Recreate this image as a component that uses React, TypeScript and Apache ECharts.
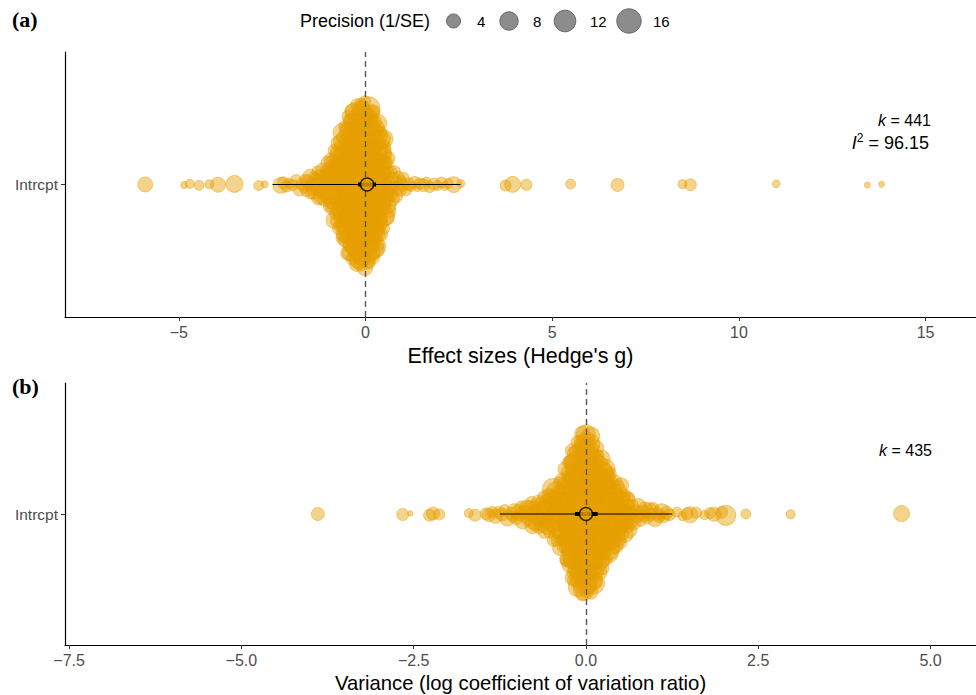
import React, { useEffect, useRef } from 'react';
import * as echarts from 'echarts';

const ORANGE = '#E69F00';
const FONT = '"Liberation Sans", Arial, Helvetica, sans-serif';

// ---------- Panel (a): effect sizes (Hedge's g), [value, precision 1/SE] ----------
const gOutliers: number[][] = [
  [-5.9, 4.8], [-4.86, 0.43], [-4.71, 1.1], [-4.46, 1.5], [-4.18, 1.1], [-3.95, 4.8], [-3.51, 6.6], [-2.86, 1.5], [-2.7, 0.45],
  [2.36, 5.7], [2.55, 0.7], [3.75, 2.0], [3.94, 5.7], [4.31, 2.0], [5.49, 1.5], [6.75, 3.3], [8.49, 1.1], [8.7, 2.6], [11.0, 0.7], [13.44, 0.2], [13.82, 0.2],
];
const gTails: number[][] = [
  [-2.27, 5.5], [-2.2, 2.5], [-2.12, 2.0], [-2.05, 1.5], [-1.95, 2.0], [-1.86, 3.0], [-1.77, 3.5], [-1.72, 2.0], [-1.66, 1.5], [-1.61, 2.5], [-1.57, 3.0],
  [1.08, 2], [1.15, 3], [1.22, 1.5], [1.31, 2.5], [1.38, 1], [1.46, 2], [1.55, 3], [1.63, 1.5], [1.72, 2], [1.84, 2.5], [1.93, 1.5], [2.04, 2], [2.12, 1], [2.22, 1.5],
];
const gCore: number[][] = [
  [-1.54, 3.1], [-1.52, 1.8], [-1.49, 4.2], [-1.46, 2.5],
  [-1.44, 2.0], [-1.41, 3.6], [-1.38, 1.4], [-1.36, 5.0],
  [-1.34, 2.7], [-1.32, 4.4], [-1.29, 1.9], [-1.27, 3.3], [-1.25, 6.1],
  [-1.24, 2.2], [-1.21, 3.8], [-1.19, 5.4], [-1.17, 1.6], [-1.15, 2.9],
  [-1.14, 4.7], [-1.12, 2.4], [-1.1, 3.5], [-1.08, 7.2], [-1.07, 1.8], [-1.05, 3.0],
  [-1.04, 5.2], [-1.03, 2.6], [-1.01, 3.9], [-0.99, 1.7], [-0.98, 6.4], [-0.97, 2.8], [-0.95, 4.1],
  [-0.95, 3.3], [-0.94, 5.8], [-0.93, 2.1], [-0.92, 4.5], [-0.9, 3.0], [-0.89, 8.1], [-0.88, 2.5], [-0.87, 3.7], [-0.86, 5.0], [-0.85, 1.9],
  [-0.85, 4.3], [-0.84, 2.7], [-0.83, 6.6], [-0.82, 3.4], [-0.81, 2.0], [-0.8, 5.5], [-0.79, 3.1], [-0.78, 9.2], [-0.77, 2.3], [-0.76, 4.0], [-0.76, 3.6], [-0.75, 5.9],
  [-0.75, 2.9], [-0.74, 4.8], [-0.74, 3.2], [-0.73, 7.0], [-0.72, 2.4], [-0.72, 5.1], [-0.71, 3.8], [-0.7, 10.4], [-0.7, 2.6], [-0.69, 4.4], [-0.68, 3.0], [-0.68, 6.2], [-0.67, 2.1], [-0.66, 4.9], [-0.66, 3.5], [-0.65, 8.6], [-0.65, 2.8], [-0.65, 4.1],
  [-0.65, 5.3], [-0.64, 2.5], [-0.64, 3.9], [-0.63, 7.5], [-0.62, 3.1], [-0.62, 4.6], [-0.61, 2.2], [-0.61, 6.0], [-0.6, 3.4], [-0.6, 11.8], [-0.59, 2.7], [-0.59, 4.2], [-0.58, 5.6], [-0.57, 3.0], [-0.57, 8.9], [-0.56, 2.3], [-0.56, 4.7], [-0.56, 3.6], [-0.55, 6.7], [-0.55, 2.9], [-0.55, 4.0],
  [-0.54, 3.2], [-0.54, 5.5], [-0.53, 2.4], [-0.53, 7.9], [-0.52, 3.7], [-0.52, 4.4], [-0.51, 2.0], [-0.51, 6.3], [-0.5, 3.3], [-0.5, 9.8], [-0.49, 2.6], [-0.49, 5.0], [-0.48, 3.9], [-0.48, 13.5], [-0.47, 2.8], [-0.47, 4.6], [-0.47, 3.1], [-0.46, 7.1], [-0.46, 2.2], [-0.46, 5.8], [-0.45, 3.5], [-0.45, 4.2], [-0.45, 8.3], [-0.45, 2.7],
  [-0.44, 4.9], [-0.44, 3.0], [-0.43, 6.5], [-0.43, 2.5], [-0.43, 4.1], [-0.42, 10.9], [-0.42, 3.4], [-0.41, 5.3], [-0.41, 2.1], [-0.41, 7.7], [-0.4, 3.8], [-0.4, 4.5], [-0.39, 2.9], [-0.39, 12.6], [-0.38, 3.2], [-0.38, 5.9], [-0.38, 2.4], [-0.37, 6.8], [-0.37, 3.6], [-0.36, 4.3], [-0.36, 9.1], [-0.36, 2.7], [-0.35, 5.1], [-0.35, 3.1], [-0.35, 7.3], [-0.35, 2.3], [-0.35, 4.7],
  [-0.34, 3.9], [-0.34, 6.1], [-0.33, 2.6], [-0.33, 8.7], [-0.33, 3.3], [-0.32, 4.8], [-0.32, 2.2], [-0.31, 11.2], [-0.31, 3.7], [-0.31, 5.4], [-0.3, 2.8], [-0.3, 7.4], [-0.29, 3.1], [-0.29, 4.4], [-0.29, 14.8], [-0.28, 2.5], [-0.28, 6.3], [-0.27, 3.5], [-0.27, 5.0], [-0.27, 2.0], [-0.26, 9.6], [-0.26, 3.8], [-0.26, 4.6], [-0.25, 2.9], [-0.25, 6.9], [-0.25, 3.4], [-0.25, 5.7],
  [-0.24, 2.4], [-0.24, 4.1], [-0.24, 8.2], [-0.23, 3.0], [-0.23, 5.6], [-0.23, 2.7], [-0.22, 12.1], [-0.22, 3.6], [-0.22, 4.9], [-0.21, 2.1], [-0.21, 7.0], [-0.21, 3.3], [-0.2, 5.2], [-0.2, 10.3], [-0.2, 2.6], [-0.19, 4.4], [-0.19, 3.9], [-0.19, 6.6], [-0.18, 2.3], [-0.18, 8.8], [-0.18, 3.2], [-0.17, 4.7], [-0.17, 15.6], [-0.17, 2.8], [-0.16, 5.8], [-0.16, 3.5], [-0.16, 7.6], [-0.15, 2.5], [-0.15, 4.2],
  [-0.14, 6.4], [-0.14, 3.1], [-0.14, 9.4], [-0.13, 2.4], [-0.13, 4.8], [-0.13, 3.7], [-0.12, 11.5], [-0.12, 2.9], [-0.12, 5.3], [-0.11, 3.4], [-0.11, 7.8], [-0.11, 2.2], [-0.1, 4.5], [-0.1, 13.2], [-0.1, 3.0], [-0.09, 6.0], [-0.09, 2.7], [-0.09, 4.0], [-0.08, 8.5], [-0.08, 3.6], [-0.08, 5.5], [-0.07, 2.3], [-0.07, 10.0], [-0.07, 3.3], [-0.06, 4.6], [-0.06, 7.2], [-0.06, 2.6], [-0.05, 5.0], [-0.05, 3.9],
  [-0.04, 12.8], [-0.04, 2.8], [-0.04, 4.3], [-0.03, 6.7], [-0.03, 3.2], [-0.03, 9.0], [-0.02, 2.5], [-0.02, 5.7], [-0.02, 3.8], [-0.01, 14.3], [-0.01, 2.1], [-0.01, 4.9], [0.0, 7.4], [0.0, 3.5], [0.0, 5.2], [0.01, 2.9], [0.01, 10.7], [0.01, 4.1], [0.02, 3.0], [0.02, 6.5], [0.02, 2.4], [0.03, 8.1], [0.03, 3.7], [0.03, 4.8], [0.04, 2.7], [0.04, 11.9], [0.04, 3.4], [0.05, 5.9], [0.05, 2.2],
  [0.05, 4.4], [0.06, 7.9], [0.06, 3.1], [0.06, 5.4], [0.07, 2.6], [0.07, 9.7], [0.07, 3.9], [0.08, 4.6], [0.08, 2.3], [0.08, 13.9], [0.09, 3.3], [0.09, 6.2], [0.09, 2.8], [0.1, 5.0], [0.1, 8.6], [0.1, 3.6], [0.11, 4.2], [0.11, 2.1], [0.11, 10.9], [0.12, 3.0], [0.12, 6.8], [0.12, 4.7], [0.13, 2.5], [0.13, 7.5], [0.13, 3.5], [0.14, 5.3], [0.14, 2.9], [0.14, 12.4], [0.15, 4.0],
  [0.15, 3.2], [0.16, 6.1], [0.16, 2.7], [0.16, 8.9], [0.17, 3.8], [0.17, 4.5], [0.18, 2.2], [0.18, 11.1], [0.18, 3.4], [0.19, 5.7], [0.19, 2.9], [0.2, 7.3], [0.2, 4.1], [0.2, 3.0], [0.21, 9.9], [0.21, 2.5], [0.22, 5.0], [0.22, 3.6], [0.22, 6.4], [0.23, 2.3], [0.23, 4.8], [0.23, 14.0], [0.24, 3.3], [0.24, 5.5], [0.24, 2.6], [0.25, 7.7], [0.25, 3.9],
  [0.25, 4.3], [0.26, 2.8], [0.26, 6.9], [0.27, 3.5], [0.27, 10.2], [0.28, 2.4], [0.28, 4.9], [0.28, 3.1], [0.29, 8.0], [0.29, 5.6], [0.3, 2.7], [0.3, 4.0], [0.31, 12.0], [0.31, 3.4], [0.32, 6.0], [0.32, 2.1], [0.33, 4.6], [0.33, 7.4], [0.33, 3.0], [0.34, 5.2], [0.34, 2.6], [0.34, 9.3], [0.35, 3.7], [0.35, 4.4],
  [0.35, 2.9], [0.36, 6.6], [0.36, 3.3], [0.37, 4.8], [0.37, 11.4], [0.38, 2.4], [0.38, 5.4], [0.39, 3.6], [0.39, 8.2], [0.4, 2.8], [0.4, 4.2], [0.41, 6.2], [0.41, 3.1], [0.42, 9.5], [0.42, 2.3], [0.43, 4.6], [0.43, 3.8], [0.43, 7.0], [0.44, 2.6], [0.44, 5.1], [0.44, 3.4],
  [0.45, 6.8], [0.46, 2.7], [0.47, 4.5], [0.47, 3.2], [0.48, 8.7], [0.49, 2.2], [0.49, 5.6], [0.5, 3.7], [0.51, 4.1], [0.51, 10.1], [0.52, 2.9], [0.53, 5.3], [0.53, 3.4], [0.54, 6.0],
  [0.55, 2.5], [0.56, 4.7], [0.57, 3.0], [0.58, 7.6], [0.59, 2.8], [0.6, 5.0], [0.61, 3.6], [0.62, 4.2], [0.64, 2.1],
  [0.66, 3.9], [0.68, 2.6], [0.7, 5.5], [0.72, 3.1], [0.74, 1.9],
  [0.77, 2.8], [0.8, 4.4], [0.83, 2.0], [0.85, 3.3],
  [0.88, 2.4], [0.92, 3.6], [0.95, 1.7],
  [0.98, 2.9], [1.02, 2.2],
];
// summary: mean, 95% CI, prediction interval
const gMean = 0.04;
const gCI = [-0.2, 0.28];
const gPI = [-2.49, 2.54];

// ---------- Panel (b): lnCVR, [value, precision 1/SE] ----------
const vOutliers: number[][] = [
  [-3.89, 3.3], [-2.66, 2.6], [-2.55, 0.13], [-2.27, 2.6], [-2.22, 3.3], [-2.13, 2.0], [-1.7, 1.1], [-1.61, 2.6],
  [1.32, 1.5], [1.4, 1.1], [1.47, 2.6], [1.51, 5.7], [1.6, 2.0], [1.72, 1.1], [1.8, 2.0], [1.86, 4.0], [1.97, 2.6], [2.03, 9.9], [2.32, 1.5], [2.97, 1.1], [4.58, 5.7],
];
const vTails: number[][] = [
  [-1.45, 2.6], [-1.41, 3.3], [-1.36, 2.0], [-1.31, 4.0], [-1.27, 2.6], [-1.22, 3.3], [-1.18, 2.0], [-1.14, 4.8],
];
const vCore: number[][] = [
  [-1.09, 3.0], [-1.06, 2.2],
  [-1.04, 3.6], [-1.01, 2.5], [-0.98, 4.4], [-0.96, 1.9],
  [-0.94, 2.8], [-0.92, 5.1], [-0.9, 3.2], [-0.88, 2.0], [-0.86, 3.9],
  [-0.84, 2.4], [-0.82, 6.0], [-0.81, 3.1], [-0.79, 2.7], [-0.78, 4.6], [-0.77, 3.5], [-0.75, 8.2],
  [-0.74, 2.9], [-0.73, 4.2], [-0.72, 2.2], [-0.7, 5.8], [-0.69, 3.3], [-0.68, 2.6], [-0.67, 7.1], [-0.66, 3.8], [-0.65, 2.4],
  [-0.64, 4.9], [-0.63, 3.0], [-0.62, 6.4], [-0.61, 2.5], [-0.6, 3.7], [-0.59, 9.5], [-0.58, 2.8], [-0.57, 4.3], [-0.56, 3.4], [-0.56, 5.6], [-0.55, 2.1],
  [-0.54, 3.9], [-0.53, 2.6], [-0.53, 7.3], [-0.52, 3.2], [-0.51, 4.7], [-0.5, 2.3], [-0.5, 5.9], [-0.49, 3.6], [-0.48, 11.0], [-0.47, 2.9], [-0.47, 4.4], [-0.46, 3.1], [-0.45, 6.6],
  [-0.44, 2.7], [-0.44, 4.1], [-0.43, 3.5], [-0.43, 8.4], [-0.42, 2.4], [-0.41, 5.2], [-0.41, 3.3], [-0.4, 4.6], [-0.4, 2.2], [-0.39, 7.0], [-0.38, 3.8], [-0.38, 2.8], [-0.37, 5.5], [-0.37, 3.0], [-0.36, 9.9], [-0.36, 4.0], [-0.35, 2.5], [-0.35, 6.1],
  [-0.34, 3.4], [-0.34, 4.8], [-0.33, 2.3], [-0.33, 6.8], [-0.32, 3.7], [-0.32, 2.9], [-0.31, 5.0], [-0.31, 12.3], [-0.3, 3.2], [-0.3, 4.5], [-0.29, 2.6], [-0.29, 7.8], [-0.28, 3.9], [-0.28, 5.3], [-0.28, 2.1], [-0.27, 4.2], [-0.27, 10.5], [-0.27, 3.0], [-0.26, 6.2], [-0.26, 2.7], [-0.26, 4.9], [-0.25, 3.6], [-0.25, 8.6], [-0.25, 2.4], [-0.25, 5.7], [-0.25, 3.3],
  [-0.24, 4.4], [-0.24, 2.8], [-0.24, 7.2], [-0.23, 3.5], [-0.23, 5.1], [-0.23, 2.2], [-0.23, 13.4], [-0.22, 3.9], [-0.22, 4.7], [-0.22, 2.6], [-0.22, 6.5], [-0.21, 3.1], [-0.21, 9.2], [-0.21, 2.4], [-0.21, 5.4], [-0.2, 3.8], [-0.2, 4.1], [-0.2, 11.6], [-0.2, 2.9], [-0.19, 6.0], [-0.19, 3.3], [-0.19, 4.8], [-0.19, 2.3], [-0.18, 8.0], [-0.18, 3.6], [-0.18, 5.6], [-0.18, 2.7], [-0.17, 4.3], [-0.17, 15.0], [-0.17, 3.0], [-0.17, 6.9], [-0.16, 2.5], [-0.16, 4.6], [-0.16, 3.4], [-0.16, 10.0], [-0.15, 2.8], [-0.15, 5.2], [-0.15, 3.7],
  [-0.14, 4.0], [-0.14, 7.5], [-0.14, 2.6], [-0.14, 5.8], [-0.13, 3.2], [-0.13, 12.7], [-0.13, 4.4], [-0.13, 2.3], [-0.12, 6.3], [-0.12, 3.5], [-0.12, 8.8], [-0.12, 2.9], [-0.12, 4.9], [-0.11, 3.1], [-0.11, 10.8], [-0.11, 5.5], [-0.11, 2.4], [-0.1, 4.2], [-0.1, 7.0], [-0.1, 3.6], [-0.1, 14.1], [-0.1, 2.7], [-0.09, 5.0], [-0.09, 3.3], [-0.09, 6.7], [-0.09, 2.2], [-0.08, 4.6], [-0.08, 9.4], [-0.08, 3.0], [-0.08, 5.9], [-0.07, 2.5], [-0.07, 11.8], [-0.07, 4.1], [-0.07, 3.8], [-0.07, 6.1], [-0.06, 2.8], [-0.06, 8.3], [-0.06, 4.7], [-0.06, 3.2], [-0.06, 16.2], [-0.05, 2.4], [-0.05, 5.3], [-0.05, 3.5], [-0.05, 7.7], [-0.05, 4.3], [-0.05, 2.9], [-0.05, 10.4], [-0.05, 3.7], [-0.05, 6.4],
  [-0.04, 2.6], [-0.04, 5.1], [-0.04, 13.0], [-0.04, 3.4], [-0.04, 4.5], [-0.03, 8.1], [-0.03, 2.3], [-0.03, 6.6], [-0.03, 3.9], [-0.03, 11.2], [-0.02, 2.8], [-0.02, 4.8], [-0.02, 3.1], [-0.02, 7.4], [-0.02, 5.6], [-0.01, 2.5], [-0.01, 9.7], [-0.01, 4.0], [-0.01, 3.6], [-0.01, 14.7], [0.0, 2.7], [0.0, 6.0], [0.0, 4.4], [0.0, 3.3], [0.0, 8.9], [0.0, 2.2], [0.01, 5.4], [0.01, 12.1], [0.01, 3.0], [0.01, 4.6], [0.01, 6.9], [0.02, 2.4], [0.02, 3.8], [0.02, 10.3], [0.02, 5.0], [0.02, 2.9], [0.03, 7.2], [0.03, 4.2], [0.03, 3.5], [0.03, 15.5], [0.03, 2.6], [0.04, 5.7], [0.04, 3.2], [0.04, 8.5], [0.04, 4.9], [0.04, 2.1], [0.05, 6.3], [0.05, 3.7], [0.05, 11.5], [0.05, 4.1],
  [0.05, 2.8], [0.06, 5.2], [0.06, 9.0], [0.06, 3.4], [0.06, 4.7], [0.07, 2.3], [0.07, 7.6], [0.07, 3.9], [0.07, 13.6], [0.08, 2.6], [0.08, 5.8], [0.08, 3.1], [0.08, 4.4], [0.09, 6.8], [0.09, 2.5], [0.09, 10.9], [0.09, 3.6], [0.1, 4.9], [0.1, 2.9], [0.1, 8.2], [0.1, 3.3], [0.1, 5.5], [0.11, 2.2], [0.11, 12.5], [0.11, 4.0], [0.11, 3.7], [0.12, 6.2], [0.12, 2.7], [0.12, 4.5], [0.12, 9.6], [0.13, 3.0], [0.13, 5.1], [0.13, 2.4], [0.13, 7.3], [0.13, 3.8], [0.14, 4.3], [0.14, 14.4], [0.14, 2.8], [0.14, 5.9], [0.14, 3.2], [0.15, 6.5], [0.15, 2.5], [0.15, 4.6], [0.15, 3.5], [0.15, 8.7], [0.15, 2.1], [0.15, 5.0],
  [0.16, 3.9], [0.16, 7.0], [0.16, 2.6], [0.17, 4.8], [0.17, 11.3], [0.17, 3.1], [0.18, 5.4], [0.18, 2.3], [0.18, 6.6], [0.19, 3.6], [0.19, 4.2], [0.19, 9.1], [0.2, 2.8], [0.2, 5.7], [0.2, 3.3], [0.21, 4.5], [0.21, 7.9], [0.21, 2.4], [0.22, 3.7], [0.22, 12.9], [0.22, 5.0], [0.23, 2.9], [0.23, 4.1], [0.23, 6.3], [0.24, 3.2], [0.24, 2.2], [0.24, 8.4], [0.24, 4.7], [0.25, 3.4], [0.25, 5.6], [0.25, 2.7], [0.25, 10.2], [0.25, 3.8],
  [0.26, 4.4], [0.26, 2.5], [0.27, 6.8], [0.27, 3.5], [0.28, 5.2], [0.28, 2.9], [0.28, 9.8], [0.29, 3.1], [0.29, 4.6], [0.3, 2.3], [0.3, 7.5], [0.31, 3.9], [0.31, 5.5], [0.32, 2.7], [0.32, 4.0], [0.33, 11.9], [0.33, 3.3], [0.33, 6.1], [0.34, 2.4], [0.34, 4.8], [0.34, 3.6], [0.35, 8.0], [0.35, 2.8], [0.35, 5.3],
  [0.36, 3.2], [0.36, 6.4], [0.37, 2.6], [0.37, 4.5], [0.38, 10.6], [0.38, 3.7], [0.39, 2.2], [0.39, 5.8], [0.4, 3.4], [0.4, 7.2], [0.41, 2.9], [0.41, 4.2], [0.42, 3.0], [0.42, 9.0], [0.43, 2.5], [0.43, 5.1], [0.44, 3.8], [0.44, 6.7], [0.45, 2.7], [0.45, 4.4],
  [0.46, 3.5], [0.46, 8.3], [0.47, 2.4], [0.47, 5.0], [0.48, 3.1], [0.48, 12.4], [0.49, 4.1], [0.49, 2.8], [0.5, 6.0], [0.5, 3.6], [0.51, 4.7], [0.51, 2.3], [0.52, 7.7], [0.52, 3.3], [0.53, 5.4], [0.53, 2.6], [0.54, 4.0], [0.55, 9.3],
  [0.56, 3.0], [0.57, 5.6], [0.57, 2.5], [0.58, 4.3], [0.59, 7.0], [0.6, 2.8], [0.6, 3.9], [0.61, 6.2], [0.62, 2.2], [0.63, 4.8], [0.64, 3.4], [0.65, 5.2],
  [0.67, 2.9], [0.69, 4.6], [0.72, 2.4], [0.74, 3.7],
  [0.76, 5.5], [0.79, 2.6], [0.82, 3.9], [0.84, 2.1],
  [0.86, 4.1], [0.89, 2.7], [0.92, 6.0], [0.94, 3.0],
  [0.97, 2.4], [1.0, 4.4], [1.04, 3.2],
  [1.06, 2.8], [1.1, 5.0], [1.13, 2.2],
  [1.17, 3.4], [1.21, 2.5],
];
const vMean = 0.0;
const vCI = [-0.16, 0.17];
const vPI = [-1.25, 1.25];

// axis ticks and legend
const ticksA = [-5, 0, 5, 10, 15];
const ticksB = [-7.5, -5, -2.5, 0, 2.5, 5];
const legendPrecision = [4, 8, 12, 16];
const legendCircleX = [453.5, 509, 565, 629];
const legendLabelX = [477, 533, 590, 653];

const sizeOf = (p: number) => 3.6 + 5.2 * Math.sqrt(p);

function vdc(i: number): number {
  let r = 0, f = 0.5;
  while (i > 0) { r += f * (i % 2); i = Math.floor(i / 2); f /= 2; }
  return r;
}
function quantile(s: number[], q: number) {
  const pos = (s.length - 1) * q; const lo = Math.floor(pos); const hi = Math.ceil(pos);
  return s[lo] + (s[hi] - s[lo]) * (pos - lo);
}
// quasirandom (vipor-style) offsets
function quasirandom(vals: number[], width: number): number[] {
  const n = vals.length;
  const s = [...vals].sort((a, b) => a - b);
  const mean = vals.reduce((a, v) => a + v, 0) / n;
  const sd = Math.sqrt(vals.reduce((a, v) => a + (v - mean) ** 2, 0) / (n - 1));
  const iqr = quantile(s, 0.75) - quantile(s, 0.25);
  const bw = 0.9 * Math.min(sd, iqr / 1.34) * Math.pow(n, -0.2);
  const dens = (x: number) => { let t = 0; for (const v of vals) { const z = (x - v) / bw; t += Math.exp(-0.5 * z * z); } return t; };
  const lo = s[0] - 3 * bw, hi = s[n - 1] + 3 * bw;
  const gy: number[] = []; let mx = 0;
  for (let i = 0; i < 512; i++) { const d = dens(lo + (hi - lo) * i / 511); gy.push(d); if (d > mx) mx = d; }
  const pd = vals.map((v) => { const t = (v - lo) / (hi - lo) * 511; const i = Math.min(510, Math.floor(t)); const f = t - i; return (gy[i] * (1 - f) + gy[i + 1] * f) / mx; });
  const order = vals.map((_, i) => i).sort((a, b) => vals[a] - vals[b] || a - b);
  const rank: number[] = new Array(n); order.forEach((idx, r) => { rank[idx] = r + 1; });
  return vals.map((_, i) => (vdc(rank[i]) - 0.5) * 2 * pd[i] * width);
}

function buildPoints(rows: number[][]) {
  const vals = rows.map((r) => r[0]);
  const off = quasirandom(vals, 0.38);
  return rows.map((r, i) => [r[0], off[i], r[1]]);
}

const minus = (s: string) => s.replace('-', '\u2212');

function xAxis(gridIndex: number, min: number, max: number, ticks: number[], name: string, dec: number, nameSize: number) {
  return {
    type: 'value', gridIndex, min, max, name, nameLocation: 'middle', nameGap: 28,
    nameTextStyle: { fontSize: nameSize, color: '#000', fontFamily: FONT },
    axisLine: { show: true, onZero: false, lineStyle: { color: '#000', width: 1.2 } },
    axisTick: { show: true, customValues: ticks, length: 4, lineStyle: { color: '#333', width: 1 } },
    axisLabel: { show: true, customValues: ticks, color: '#4D4D4D', fontSize: 16, margin: 7, fontFamily: FONT, formatter: (v: number) => minus(v.toFixed(dec)) },
    splitLine: { show: false },
  };
}
function yAxis(gridIndex: number) {
  return {
    type: 'value', gridIndex, min: -0.6, max: 0.6,
    axisLine: { show: true, onZero: false, lineStyle: { color: '#000', width: 1.2 } },
    axisTick: { show: true, customValues: [0], length: 4, lineStyle: { color: '#333', width: 1 } },
    axisLabel: { show: true, customValues: [0], color: '#4D4D4D', fontSize: 15.5, margin: 7, fontFamily: FONT, formatter: () => 'Intrcpt' },
    splitLine: { show: false },
  };
}
function panelSeries(idx: number, pts: number[][], mean: number, ci: number[], pi: number[]) {
  return [
    {
      type: 'scatter', xAxisIndex: idx, yAxisIndex: idx, data: pts, z: 2,
      symbolSize: (v: number[]) => sizeOf(v[2]),
      itemStyle: { color: 'rgba(230,159,0,0.45)', borderColor: 'rgba(230,159,0,0.45)', borderWidth: 1, opacity: 1 },
    },
    {
      type: 'line', xAxisIndex: idx, yAxisIndex: idx, data: [[pi[0], 0], [pi[1], 0]], z: 3, symbol: 'none',
      lineStyle: { color: '#000', width: 1 },
      markLine: { silent: true, symbol: ['none', 'none'], label: { show: false }, data: [{ xAxis: 0 }], lineStyle: { color: '#555', type: [6, 4], width: 1.4 } },
    },
    {
      type: 'line', xAxisIndex: idx, yAxisIndex: idx, data: [[ci[0], 0], [ci[1], 0]], z: 4, symbol: 'none',
      lineStyle: { color: '#000', width: 4 },
    },
    {
      type: 'scatter', xAxisIndex: idx, yAxisIndex: idx, data: [[mean, 0]], z: 5, symbolSize: 13,
      itemStyle: { color: ORANGE, borderColor: '#000', borderWidth: 1.5 },
    },
  ];
}

export default function App() {
  const ref = useRef<HTMLDivElement>(null);
  useEffect(() => {
    document.body.style.margin = '0';
    if (!ref.current) return;
    const chart = echarts.init(ref.current, undefined, { renderer: 'svg' });
    const ptsA = buildPoints([...gOutliers, ...gTails, ...gCore]);
    const ptsB = buildPoints([...vOutliers, ...vTails, ...vCore]);
    const graphic: any[] = [
      { type: 'text', x: 12, y: 19, style: { text: '(a)', fontFamily: '"Liberation Serif", "Times New Roman", serif', fontWeight: 'bold', fontSize: 22, fill: '#000', verticalAlign: 'middle', textVerticalAlign: 'middle' } },
      { type: 'text', x: 12, y: 386, style: { text: '(b)', fontFamily: '"Liberation Serif", "Times New Roman", serif', fontWeight: 'bold', fontSize: 22, fill: '#000', verticalAlign: 'middle', textVerticalAlign: 'middle' } },
      { type: 'text', x: 430, y: 21, style: { text: 'Precision (1/SE)', fontFamily: FONT, fontSize: 18, fill: '#000', align: 'right', textAlign: 'right', verticalAlign: 'middle', textVerticalAlign: 'middle' } },
      { type: 'text', x: 931, y: 120, style: { text: '{i|k} = 441', rich: { i: { fontStyle: 'italic', fontSize: 16, fontFamily: FONT } }, fontFamily: FONT, fontSize: 16, fill: '#000', align: 'right', textAlign: 'right', verticalAlign: 'middle', textVerticalAlign: 'middle' } },
      { type: 'text', x: 929, y: 143, style: { text: '{i|I}{s|2}{n| = 96.15}', rich: { i: { fontStyle: 'italic', fontSize: 18, fontFamily: FONT, lineHeight: 22 }, s: { fontSize: 12, fontFamily: FONT, verticalAlign: 'top', lineHeight: 22 }, n: { fontSize: 18, fontFamily: FONT, lineHeight: 22 } }, fontFamily: FONT, fontSize: 18, fill: '#000', align: 'right', textAlign: 'right', verticalAlign: 'middle', textVerticalAlign: 'middle' } },
      { type: 'text', x: 932, y: 450, style: { text: '{i|k} = 435', rich: { i: { fontStyle: 'italic', fontSize: 16, fontFamily: FONT } }, fontFamily: FONT, fontSize: 16, fill: '#000', align: 'right', textAlign: 'right', verticalAlign: 'middle', textVerticalAlign: 'middle' } },
    ];
    legendPrecision.forEach((p, i) => {
      graphic.push({ type: 'circle', shape: { cx: legendCircleX[i], cy: 21, r: sizeOf(p) / 2 }, style: { fill: '#8c8c8c', stroke: '#666', lineWidth: 1 } });
      graphic.push({ type: 'text', x: legendLabelX[i], y: 21, style: { text: String(p), fontFamily: FONT, fontSize: 15, fill: '#000', verticalAlign: 'middle', textVerticalAlign: 'middle' } });
    });
    chart.setOption({
      animation: false,
      textStyle: { fontFamily: FONT },
      grid: [
        { left: 65, right: 0, top: 52, height: 265 },
        { left: 65, right: 0, top: 383, height: 262 },
      ],
      xAxis: [
        xAxis(0, -8.05, 16.35, ticksA, "Effect sizes (Hedge's g)", 0, 21.5),
        xAxis(1, -7.56, 5.66, ticksB, 'Variance (log coefficient of variation ratio)', 1, 20.3),
      ],
      yAxis: [yAxis(0), yAxis(1)],
      series: [
        ...panelSeries(0, ptsA, gMean, gCI, gPI),
        ...panelSeries(1, ptsB, vMean, vCI, vPI),
      ],
      graphic,
    });
    return () => chart.dispose();
  }, []);
  return <div ref={ref} style={{ width: 976, height: 695 }} />;
}
